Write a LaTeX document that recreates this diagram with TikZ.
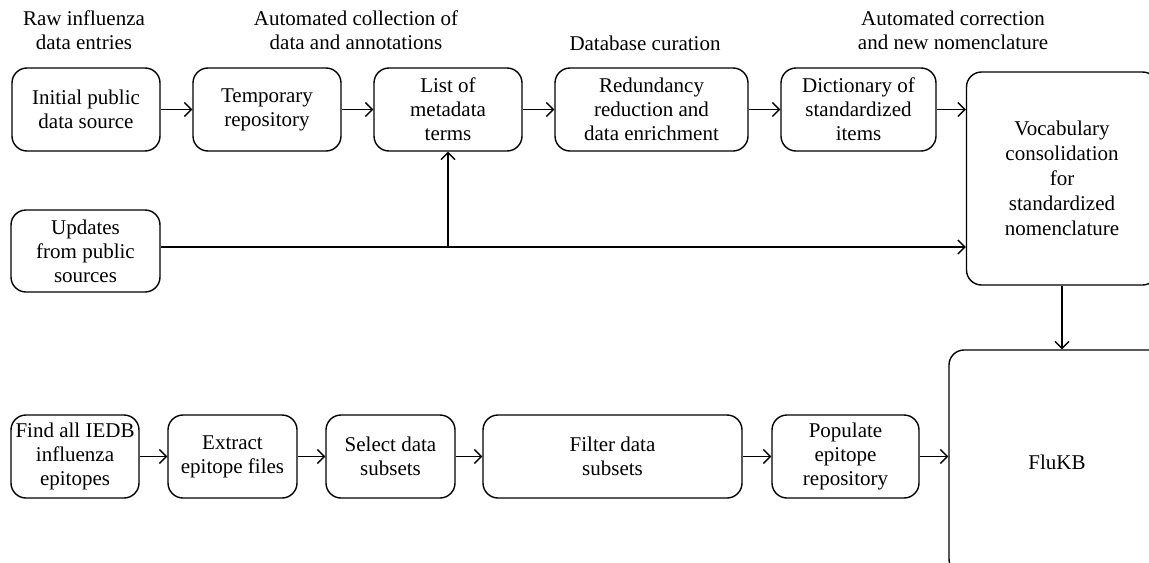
\documentclass[tikz,border=0pt]{standalone}
\usepackage{fontspec}
\setmainfont{Liberation Serif}
\usetikzlibrary{arrows.meta}
\begin{document}
\begin{tikzpicture}[
        x=0.5pt, y=-0.5pt,
        font=\fontsize{10.5}{12}\selectfont,
        box/.style={rectangle, draw, rounded corners=7.5pt, align=center, inner sep=0pt, line width=0.7pt, minimum width=74pt, minimum height=41.5pt},
        head/.style={align=center, inner sep=0pt},
        arrow/.style={-{Straight Barb[length=3.5pt, width=7pt]}, line width=0.7pt}
      ]
      \useasboundingbox (0,0) rectangle (1149,562);

      % Stage headings
      \node[head] (raw) at (84,30) {Raw influenza\\data entries};
      \node[head] (collect) at (356,30) {Automated collection of\\data and annotations};
      \node[head] (curation) at (645,43) {Database curation};
      \node[head] (correct) at (953,30) {Automated correction\\and new nomenclature};

      % Upper row
      \node[box] (init) at (86,109.5) {Initial public\\data source};
      \node[box] (temp) at (267,109.5) {Temporary\\repository};
      \node[box] (list) at (448,109.5) {List of\\metadata\\terms};
      \node[box, minimum width=96.5pt] (redund) at (651.5,109.5) {Redundancy\\reduction and\\data enrichment};
      \node[box, minimum width=77.5pt] (dict) at (858.5,109.5) {Dictionary of\\standardized\\items};

      % Updates
      \node[box, minimum width=74.5pt, minimum height=41pt] (updates) at (85.5,251) {Updates\\from public\\sources};
      \coordinate (upd) at ([yshift=2pt]updates.east);

      % Vocabulary and knowledge base
      \node[box, minimum width=95.5pt, minimum height=106.5pt, font=\fontsize{10.5}{12.5}\selectfont] (vocab) at (1062,178.5) {Vocabulary\\consolidation\\for\\standardized\\nomenclature};
      \node[box, minimum width=108pt, minimum height=112pt] (flukb) at (1057,462) {FluKB};

      % Lower row
      \node[box, minimum width=64pt] (find) at (75,456.5) {Find all IEDB\\influenza\\epitopes};
      \node[box, minimum width=64.5pt] (extract) at (232.5,456.5) {Extract\\epitope files};
      \node[box, minimum width=64.5pt] (select) at (390.5,456.5) {Select data\\subsets};
      \node[box, minimum width=129.5pt] (filter) at (612.5,456.5) {Filter data\\subsets};
      \node[box, minimum width=73.5pt] (populate) at (845.5,456.5) {Populate\\epitope\\repository};

      % Upper connections
      \draw[arrow] (init) -- (temp);
      \draw[arrow] (temp) -- (list);
      \draw[arrow] (list) -- (redund);
      \draw[arrow] (redund) -- (dict);
      \draw[arrow] (dict.east) -- (dict.east -| vocab.west);

      % Update connections
      \coordinate (branch) at (list.south |- upd);
      \draw[arrow] (upd) -- (upd -| vocab.west);
      \draw[arrow] (branch) -- (list.south);
      \draw[arrow] (vocab.south) -- (vocab.south |- flukb.north);

      % Lower connections
      \draw[arrow] (find) -- (extract);
      \draw[arrow] (extract) -- (select);
      \draw[arrow] (select) -- (filter);
      \draw[arrow] (filter) -- (populate);
      \draw[arrow] (populate.east) -- (populate.east -| flukb.west);
    \end{tikzpicture}
\end{document}
